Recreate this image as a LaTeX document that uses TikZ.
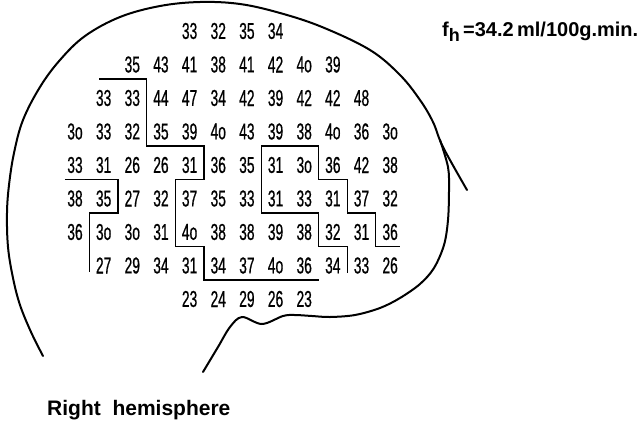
\documentclass[tikz,border=0pt]{standalone}
\usepackage{fontspec}
\setmainfont{Liberation Sans}
\newfontfamily\digitfont[FakeStretch=0.6,FakeBold=0.6]{Liberation Sans}

\begin{document}
\begin{tikzpicture}[x=1pt,y=-1pt,
    cell/.style={font=\digitfont\fontsize{23}{23}\selectfont,inner sep=0pt},
    border/.style={line width=1.2pt,line join=miter},
    outline/.style={line width=2pt,line cap=round,line join=round},
    caption/.style={font=\bfseries\fontsize{21}{21}\selectfont,inner sep=0pt,anchor=west}]
        \useasboundingbox (0,0) rectangle (642,426);

        % hemisphere outline
        \draw[outline] plot[smooth,tension=0.6] coordinates {(43,356) (31,332) (20,305) (13,278) (8,247) (7,213) (9,185) (14,153) (23,120) (40,87) (60,60) (85,36) (120,17) (160,6) (200,2) (240,4) (280,13) (322,27) (370,50) (400,75) (420,100) (433,122) (443,147) (467,190)};
        \draw[outline] plot[smooth,tension=0.55] coordinates {(440,140) (448,167) (449,190) (448,220) (444,245) (434,268) (420,284) (400,298) (380,308) (355,315) (330,317) (312,316) (295,315) (283,316) (262,324) (242,317) (230,327) (218,347) (203,372)};

        \begin{scope}[shift={(75,31)},x=28.65pt,y=-33.5pt]
        % flow values
        \foreach \v [count=\c from 4] in {33,32,35,34} \node[cell] (r1c\c) at (\c,0) {\v};
        \foreach \v [count=\c from 2] in {35,43,41,38,41,42,4o,39} \node[cell] (r2c\c) at (\c,1) {\v};
        \foreach \v [count=\c from 1] in {33,33,44,47,34,42,39,42,42,48} \node[cell] (r3c\c) at (\c,2) {\v};
        \foreach \v [count=\c from 0] in {3o,33,32,35,39,4o,43,39,38,4o,36,3o} \node[cell] (r4c\c) at (\c,3) {\v};
        \foreach \v [count=\c from 0] in {33,31,26,26,31,36,35,31,3o,36,42,38} \node[cell] (r5c\c) at (\c,4) {\v};
        \foreach \v [count=\c from 0] in {38,35,27,32,37,35,33,31,33,31,37,32} \node[cell] (r6c\c) at (\c,5) {\v};
        \foreach \v [count=\c from 0] in {36,3o,3o,31,4o,38,38,39,38,32,31,36} \node[cell] (r7c\c) at (\c,6) {\v};
        \foreach \v [count=\c from 1] in {27,29,34,31,34,37,4o,36,34,33,26} \node[cell] (r8c\c) at (\c,7) {\v};
        \foreach \v [count=\c from 4] in {23,24,29,26,23} \node[cell] (r9c\c) at (\c,8) {\v};

        % region borders
        \draw[border] (0.84,1.43) -- (2.5,1.43) -- (2.5,3.43) -- (4.5,3.43) -- (4.5,4.43) -- (3.5,4.43) -- (3.5,6.43) -- (4.5,6.43) -- (4.5,7.43) -- (8.5,7.43);
        \draw[border] (11.34,6.43) -- (10.5,6.43) -- (10.5,5.43) -- (9.5,5.43) -- (9.5,4.43) -- (8.5,4.43) -- (8.5,3.43) -- (6.5,3.43) -- (6.5,5.43) -- (8.5,5.43) -- (8.5,6.43) -- (9.5,6.43) -- (9.5,7.22);
        \draw[border] (-0.35,4.43) -- (1.5,4.43) -- (1.5,5.43) -- (0.5,5.43) -- (0.5,7.19);
        \end{scope}

        \node[caption,font=\bfseries\fontsize{20}{20}\selectfont] (flow) at (442,32) {f\raisebox{-5pt}{\fontsize{18}{18}\selectfont h}\,=34.2\,ml/100g.min.};
        \node[caption] (side) at (47,410) {Right\ \ hemisphere};
\end{tikzpicture}
\end{document}
